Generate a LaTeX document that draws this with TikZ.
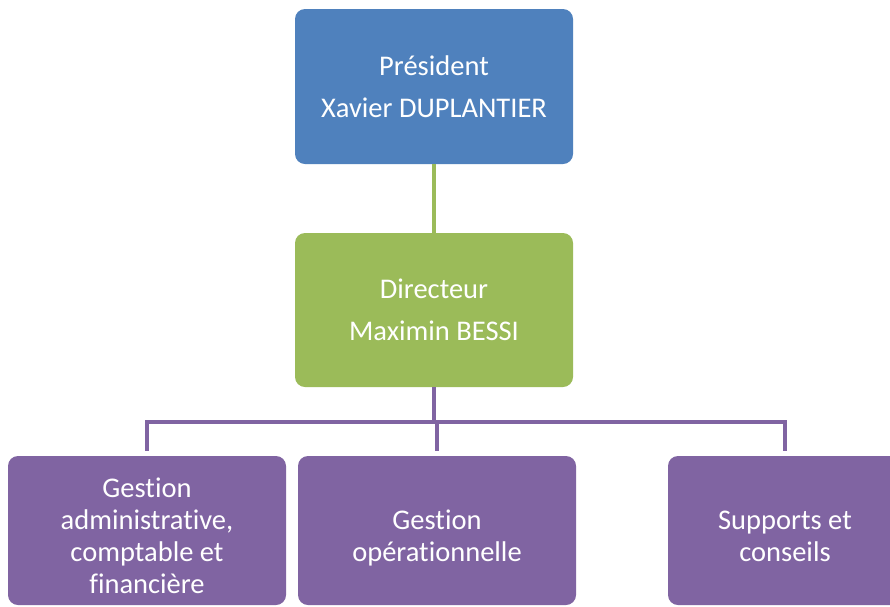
\documentclass[tikz,border=0pt]{standalone}
\usepackage{fontspec}
\setmainfont{Carlito}[Ligatures={NoCommon}]
\definecolor{cblue}{HTML}{4F81BD}
\definecolor{cgreen}{HTML}{9BBB59}
\definecolor{cpurple}{HTML}{8064A2}
\newcommand{\lowtext}[1]{\raisebox{-14.5pt}[0pt][0pt]{\begin{tabular}{@{}c@{}}#1\end{tabular}}}
\begin{document}
\begin{tikzpicture}[x=1pt,y=-1pt,
  box/.style={rounded corners=10pt, inner sep=0pt, text=white, align=center,
    font=\fontsize{28.5}{32}\selectfont, minimum width=278pt},
  link/.style={line width=3.5pt}]
\useasboundingbox[fill=white] (0,0) rectangle (890,606);
\begin{scope}
\clip (0,0) rectangle (890,606);
\node[box, fill=cblue, minimum height=155pt, font=\fontsize{28.5}{42}\selectfont] (pres) at (434,86.5) {Président\\Xavier DUPLANTIER};
\node[box, fill=cgreen, minimum height=154pt, font=\fontsize{28.5}{42}\selectfont] (dir) at (434,310) {Directeur\\Maximin BESSI};
\node[box, fill=cpurple, minimum height=149pt] (g1) at (147,530.5) {\lowtext{Gestion\\administrative,\\comptable et\\financière}};
\node[box, fill=cpurple, minimum height=149pt] (g2) at (437,530.5) {\lowtext{Gestion\\opérationnelle}};
\node[box, fill=cpurple, minimum height=149pt, minimum width=234pt] (g3) at (785,530.5) {\lowtext{Supports et\\conseils}};
\end{scope}
\draw[link, cgreen] (pres.south) -- (dir.north);
\coordinate (bar) at (434,422);
\draw[link, cpurple] (dir.south) -- (bar);
\draw[link, cpurple, shorten >=5pt] (bar) -| (g1.north);
\draw[link, cpurple, shorten >=5pt] (bar) -| (g3.north);
\draw[link, cpurple, shorten >=5pt] (bar) -- (bar -| g2.north) -- (g2.north);
\end{tikzpicture}
\end{document}
